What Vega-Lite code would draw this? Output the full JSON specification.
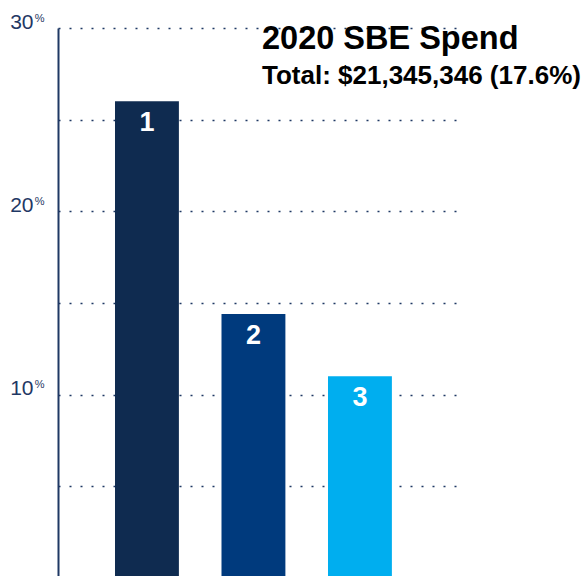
{
  "$schema": "https://vega.github.io/schema/vega-lite/v6.json",
  "autosize": "none",
  "width": 400,
  "height": 550,
  "padding": {"left": 58, "top": 28, "right": 129, "bottom": 0},
  "background": "white",
  "config": {"view": {"stroke": null}, "font": "Liberation Sans"},
  "title": {
    "text": "2020 SBE Spend",
    "subtitle": "Total: $21,345,346 (17.6%)",
    "anchor": "start",
    "frame": "group",
    "orient": "top",
    "dx": 204,
    "dy": 78,
    "offset": 0,
    "fontSize": 32.5,
    "fontWeight": "bold",
    "color": "black",
    "subtitleFontSize": 26,
    "subtitleFontWeight": "bold",
    "subtitleColor": "black",
    "subtitlePadding": 8
  },
  "data": {"values": [
    {"rank": "1", "share": 26.0},
    {"rank": "2", "share": 14.4},
    {"rank": "3", "share": 11.0}
  ]},
  "resolve": {"axis": {"y": "independent"}},
  "layer": [
    {
      "mark": {"type": "bar"},
      "encoding": {
        "x": {"field": "rank", "type": "nominal", "axis": null, "scale": {"paddingInner": 0.4, "paddingOuter": 0.578, "align": 0.463}},
        "y": {
          "field": "share", "type": "quantitative",
          "scale": {"domain": [0, 30], "nice": false},
          "axis": {
            "orient": "left",
            "values": [0, 5, 10, 15, 20, 25, 30],
            "labelExpr": "datum.value % 10 == 0 && datum.value > 0 ? datum.value : ''",
            "grid": true, "gridDash": [2, 9], "gridColor": "#1f3864", "gridWidth": 1.5,
            "domainColor": "#1f3864", "domainWidth": 2,
            "ticks": false, "title": null,
            "labelFontSize": 21, "labelColor": "#1f3864", "labelPadding": 25,
            "labelBaseline": "alphabetic"
          }
        },
        "color": {"field": "rank", "type": "nominal", "scale": {"range": ["#0f2b50", "#003a7d", "#00aeef"]}, "legend": null}
      }
    },
    {
      "mark": {"type": "text", "color": "white", "fontSize": 27, "fontWeight": "bold", "baseline": "top", "dy": 9},
      "encoding": {
        "x": {"field": "rank", "type": "nominal", "axis": null},
        "y": {
          "field": "share", "type": "quantitative",
          "axis": {
            "orient": "left",
            "values": [10, 20, 30],
            "labelExpr": "'%'",
            "grid": false, "domain": false, "ticks": false, "title": null,
            "labelFontSize": 11, "labelColor": "#1f3864", "labelPadding": 14,
            "labelBaseline": "alphabetic", "labelOffset": -7
          }
        },
        "text": {"field": "rank"}
      }
    }
  ]
}
